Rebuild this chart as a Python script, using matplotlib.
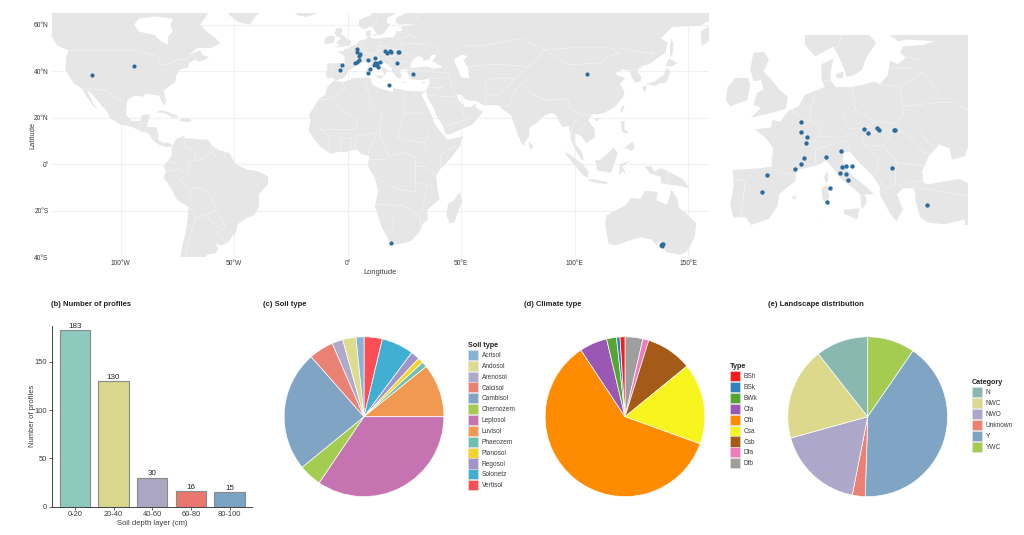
import matplotlib
matplotlib.use("Agg")
import matplotlib.pyplot as plt
from matplotlib.patches import Polygon, Patch

plt.rcParams['font.family'] = ['Liberation Sans', 'DejaVu Sans']

W, H = 1024, 535
LAND = '#e6e6e6'
GRID = '#f1f1f1'
TXT = '#3a3a3a'
DOT = '#2b6c9e'

# ---------- data ----------
depth_layers = ['0-20', '20-40', '40-60', '60-80', '80-100']
profile_counts = [183, 130, 30, 16, 15]
bar_colors = ['#8dc9bd', '#d8d78b', '#aba6c2', '#e8786d', '#7aa3c4']

soil_types = ['Acrisol', 'Andosol', 'Arenosol', 'Calcisol', 'Cambisol', 'Chernozem', 'Leptosol',
              'Luvisol', 'Phaeozem', 'Planosol', 'Regosol', 'Solonetz', 'Vertisol']
soil_shares = [1.6, 2.7, 2.2, 5.0, 24.4, 4.6, 34.5, 10.8, 1.1, 1.1, 1.8, 6.5, 3.7]
soil_colors = ['#89b3d5', '#dddb8e', '#afa9cb', '#ea8274', '#80a4c3', '#a3cc51', '#c673b1',
               '#f19851', '#6fbfaf', '#f5d327', '#a294c8', '#40afd1', '#fb4f55']

climate_types = ['BSh', 'BSk', 'BWk', 'Cfa', 'Cfb', 'Csa', 'Csb', 'Dfa', 'Dfb']
climate_shares = [1.0, 0.7, 2.0, 5.6, 60.1, 16.4, 9.3, 1.2, 3.6]
climate_colors = ['#fb1b1c', '#2d82be', '#55a630', '#9a57b3', '#ff8c00', '#f8f41e', '#a65a18', '#f07abf', '#9e9e9e']

land_cats = ['N', 'NWC', 'NWO', 'Unknown', 'Y', 'YWC']
land_shares = [10.6, 18.7, 17.6, 2.6, 40.9, 9.6]
land_colors = ['#88b8b0', '#dcd98d', '#ada8c9', '#ec8072', '#80a4c4', '#a3cc51']

europe_lon = [4.18, 4.18, 5.4, 5.2, 4.89, 4.24, 3.08, -2.4, -3.3, 9.15, 11.9, 12.1, 12.95, 14.1, 11.7, 12.95,
              13.3, 9.8, 9.2, 16.4, 17.3, 18.9, 19.3, 22.2, 22.5, 21.85, 28.7]
europe_lat = [49.48, 48.09, 47.48, 46.65, 44.74, 44.0, 43.3, 42.52, 40.35, 44.9, 45.65, 43.52, 43.65, 43.7, 42.83,
              42.6, 41.83, 40.83, 39.0, 48.48, 48.0, 48.65, 48.35, 48.39, 48.39, 43.48, 38.57]
other_lon = [-112.7, -94.0, 105.5, 19.3, 18.3, 138.2, 138.5, 138.9, 138.3]
other_lat = [38.5, 42.2, 38.7, -33.8, 34.0, -35.0, -34.5, -34.2, -35.2]

lat_ticks = [60, 40, 20, 0, -20, -40]
lat_labels = ['60°N', '40°N', '20°N', '0°', '20°S', '40°S']
lon_ticks = [-100, -50, 0, 50, 100, 150]
lon_labels = ['100°W', '50°W', '0°', '50°E', '100°E', '150°E']

# ---------- rough outlines (lon, lat) ----------
north_america = [(-135,67),(-60,67),(-62,64),(-65,60),(-62,57),(-58,54),(-56,52),(-60,50),(-66,50),(-70,47),(-65,49),(-64,47),(-61,46),
    (-64,44.5),(-66,44),(-67,45),(-70,43.5),(-70,41.7),(-74,40.5),(-75.5,38),(-76,35),(-78,34),(-81,31.5),(-80,27),(-80.5,25.2),(-82,27),
    (-83,29.5),(-85,29.7),(-89,30.3),(-90,29),(-94,29.5),(-97,27.5),(-97.5,24),(-97.5,21),(-95,18.5),(-91.5,18.5),(-90.5,21),(-87,21.5),
    (-88,18),(-88.5,16),(-84,15.8),(-83.3,12),(-83.5,10.5),(-81,9),(-79.5,9.5),(-77.5,8.5),(-77.5,7.5),(-80,7.3),(-83,8.3),(-85.5,10),
    (-87.5,13),(-92,14.5),(-95,16),(-100,17),(-105,20),(-105.5,22),(-109,26),(-112.5,30),(-114.7,31.7),(-112,26),(-109.8,23),(-112,25),
    (-115,29),(-117,32.5),(-120.5,34.5),(-122.5,37.5),(-124.3,40.5),(-124,46),(-123,49),(-128,51),(-130,54.5),(-135,58)]
hudson_bay = [(-94,60),(-92,57),(-85,55.5),(-82,52.5),(-79,51.5),(-79,55),(-77,57),(-78,60),(-77,62.5),(-85,63.5),(-92,62.5)]
greenland = [(-53,67),(-52,64),(-48,61),(-43,60),(-41,63),(-38,66),(-30,68)]
iceland = [(-24,65.5),(-22,64),(-18,63.4),(-14,64.5),(-14,66.5),(-23,66.5)]
cuba = [(-84.9,21.9),(-82.5,23.1),(-79,22.4),(-75,20.7),(-74.3,20.1),(-77.5,19.9),(-78,20.7),(-81,22),(-83.5,22.2)]
hispaniola = [(-74.4,18.5),(-73,19.9),(-70,19.8),(-68.4,18.6),(-71,18),(-72,18.2)]
south_america = [(-77,8),(-75.5,10.8),(-72,12.2),(-71.5,11),(-68,11),(-64,10.5),(-61.5,10.5),(-60,8.3),(-57,6),(-52,4.8),(-50,1),(-48,-0.7),
    (-44,-2.5),(-40,-2.9),(-35,-5.3),(-35,-8.5),(-39,-13),(-39,-18),(-41,-22),(-45,-23.5),(-48.5,-26),(-49,-29),(-53,-34),(-56,-35),(-58,-34.2),
    (-57,-36.5),(-58,-38.3),(-62,-39),(-62.5,-41),(-65,-41),(-65,-45),(-73,-45),(-73.5,-40),(-73,-36),(-71.5,-30),(-70.5,-24),(-70,-18.5),
    (-75,-15.5),(-78,-10),(-81,-6),(-80,-3),(-81,-1),(-79.5,1),(-77.5,3.5),(-77.5,7)]
africa = [(-6,36),(-2,35.2),(3,37),(10,37.3),(11,34),(15,32.3),(20,31),(20,32.8),(25,31.7),(30,31.3),(32.5,31.2),(34.2,31.3),(32.5,29.9),(34,27),
    (37,21),(38,18),(40,15),(43.2,11.5),(44,10.5),(51,11.9),(49,7),(45,2),(41,-2),(39,-5),(39.5,-10),(40.5,-15),(35,-20),(35.3,-24),(32.8,-26),
    (32,-29),(28,-33),(25,-34),(20,-34.8),(18.2,-33),(15,-27),(12,-18),(13.5,-12),(12,-6),(9,-1),(9.5,3.5),(6,4.3),(4,6.3),(-1,5.2),(-4,5.2),
    (-7.5,4.4),(-12,7.5),(-15,11),(-17.3,14.7),(-16.3,19),(-17,21),(-13,27.5),(-9.8,30),(-9,33)]
eurasia = [(12,67),(10,64),(5,62),(5,59.5),(7,58),(10.5,59.3),(11.2,58.5),(12.8,56),(13,55.4),(14.3,55.5),(16,56.2),(17,58),(18.8,59.8),(17.2,61),
    (17.5,63),(21,64.5),(22.2,65.8),(25,65.5),(25,64.5),(21.5,63),(21,61),(23,60),(25,60.2),(30,60),(28,59.5),(24,59.3),(23.5,58.5),(24.5,57.8),
    (23,57),(21.5,57.5),(21,55.5),(19.5,54.4),(18.5,54.7),(16,54.3),(14,54),(11,54),(10,54.8),(10,56),(10.5,57.7),(8.2,57),(8.2,55.2),(8.8,54),
    (7,53.5),(5,53),(3.8,51.5),(1.8,50.9),(0.2,49.5),(-1.3,49.7),(-1.6,48.7),(-4.7,48.5),(-2.5,47.3),(-1.2,46),(-1.5,43.6),(-4,43.4),(-9,43.2),
    (-8.8,41),(-9.5,38.8),(-8.9,37),(-6.5,37),(-5.5,36),(-2,36.8),(-0.3,38.5),(0,40),(3.2,41.8),(3.2,43.2),(5,43.4),(7.5,43.8),(9,44.4),(10.3,43.5),
    (12,42),(14,41),(15.7,40),(16,38),(17,39),(16.6,40),(18.5,40),(16,41.5),(14,42.5),(12.4,44.3),(12.4,45.4),(13.7,45.6),(15,44.5),(18,42.5),
    (19.5,41),(19.5,40),(21.5,37.5),(22.7,36.5),(24,38),(22.8,40),(24,40.8),(26,40.8),(26.5,40),(26.3,39.5),(27.3,37),(29,36.3),(32,36.1),(36,36.7),
    (36,34.5),(34.5,31.5),(34.9,29.5),(35.5,28),(38,24),(39,21),(42,16.5),(43.3,12.8),(45,12.8),(52,15.8),(55,17),(59.7,22.5),(56.5,24.5),(56.2,26.2),
    (54.5,24.5),(51.5,24.5),(51,26),(50,26),(48,29.5),(50,30),(52,27.7),(56.8,27),(60,25.3),(66.5,25.3),(68,23.7),(72,21),(73,18),(74.5,14),(76.5,9),
    (77.5,8),(80,12),(80,15.5),(83,17.5),(87,21),(90,22),(92,21),(94.3,16),(97.5,16.5),(98.5,10),(100.5,6),(103.5,1.4),(104,2.5),(103,5.5),(100,9),
    (100,13.3),(103,12),(105,9),(109,11.5),(108.8,15),(106,19),(108,21.5),(111,21.5),(114,22.5),(118,24.8),(121.5,29),(122,31),(120,34.5),(122.5,37),
    (119,38),(118,39.2),(121.5,40.8),(124.3,40),(125,38),(126.5,35),(129,35.5),(129.5,37.5),(127.5,39.8),(130,42.5),(133,43),(140,48),(141,52.5),
    (138,54),(143,59),(155,59.5),(160,62),(160,67)]
kamchatka = [(156,51),(155.5,57),(160,60),(165,60),(162,55),(158,52)]
black_sea = [(28,41.5),(27.7,43),(29,45),(31,46.5),(33,46),(33.5,44.5),(36,45),(37,47),(39,47),(38,45),(37,44.5),(41.5,42),(41.5,41.5),(38,41),(35,42),(32,41.7),(29,41.3)]
caspian = [(47,45),(50,47),(53,46.5),(51,44.5),(53,41.5),(53.5,37),(50,37.3),(49,40),(47.5,43)]
great_britain = [(-5,58.5),(-3,58.6),(-2,57.6),(-3,56),(-1.5,55),(0,53.7),(1.7,52.7),(1.3,51.2),(-1,50.7),(-5.5,50),(-3.5,51.3),(-5,51.7),(-4.3,53.2),(-3,53.7),(-3.5,54.9),(-5,54.8),(-5.6,56.3)]
ireland = [(-10,54),(-8.5,55.2),(-6,55.2),(-5.6,54.3),(-6.2,52.3),(-9.5,51.5),(-10.3,52.3)]
corsica = [(8.6,42.2),(9.4,43),(9.5,42),(9.2,41.4)]
sardinia = [(8.2,40.9),(9.5,41.2),(9.7,39.5),(8.9,38.9),(8.4,39.3)]
sicily = [(12.5,38),(15.6,38.2),(15.1,36.7),(12.6,37.5)]
crete = [(23.6,35.5),(26.2,35.2),(24.8,34.9)]
cyprus = [(32.3,35),(34.5,35.6),(33.8,34.7)]
zealand = [(11,55.7),(12.5,56),(12.3,55.2),(11.2,55.2)]
balearic = [(2.4,39.6),(3.3,39.9),(3.1,39.3)]
honshu = [(131,34.4),(135.5,35.6),(137,37),(139.5,38.5),(140,40.5),(141.3,41.3),(142,39.5),(140.8,36),(139.8,35),(137,34.6),(135.5,33.6),(133,34.2)]
kyushu = [(130,33.5),(131.8,33.7),(131.3,31.4),(130.2,31.3)]
hokkaido = [(140,42.5),(141.7,45.4),(145.3,43.5),(143,42),(141,42)]
sakhalin = [(142,46),(142,50),(142.5,54),(143.5,52),(143.3,49),(143,46.8)]
sumatra = [(95.3,5.5),(98,4),(103.5,0),(106,-3),(105.8,-5.8),(104,-5),(100.5,-1),(97,3)]
java = [(105.3,-6.8),(108.5,-6.5),(114.5,-7.7),(114.3,-8.7),(108,-7.8)]
borneo = [(109,1.5),(111,1.7),(115,5),(117,7),(119,5),(117.8,1),(116,-3.8),(113,-3.3),(110,-2.8)]
sulawesi = [(119.5,-5.5),(120,0),(125,1.5),(121,-1),(123,-4.8),(121,-3)]
new_guinea = [(131,-1),(134,-0.8),(135,-3.3),(138,-1.7),(145,-5),(147.8,-6.5),(150.5,-10.5),(147,-9.5),(143,-9),(138,-8.3),(138,-5.5),(133,-4)]
luzon = [(120.3,18.5),(122,18.4),(122,15),(124,13),(121,13.7)]
mindanao = [(122,7),(125.5,9.7),(126.5,7),(125,5.7)]
taiwan = [(121,25),(122,25),(120.8,22),(120.1,23)]
hainan = [(108.7,19.3),(110.5,20.1),(111,19.6),(109.5,18.2)]
sri_lanka = [(80,9.7),(81.8,7.5),(80.5,6),(79.8,8)]
madagascar = [(49.3,-12),(50.4,-16),(47,-25),(45,-25.5),(43.5,-22),(44.3,-17),(47,-15.5)]
australia = [(114,-22),(113.5,-26),(115,-34.3),(118,-35),(124,-33),(129,-31.5),(134,-32.5),(136,-35),(138,-33),(138.5,-35.5),(140.5,-38),(144,-38.5),
    (146.5,-39),(150,-37.3),(153,-31),(153.5,-25.5),(149,-21),(146,-19),(145.3,-15),(142.7,-11),(141.5,-15),(140.5,-17.5),(136,-15.5),(136.5,-12),
    (131,-11.5),(129,-15),(125,-14.5),(122,-18),(117,-20.5)]

borders = [
    [(-123,49),(-95,49),(-89,48),(-83,46),(-82.5,42.5),(-79,43),(-75,45),(-71,45),(-67.8,47),(-67,45)],
    [(-117,32.5),(-106.5,31.8),(-103,29),(-97.5,26)], [(-92,14.5),(-91,17.5),(-89,18)], [(-89,16),(-89,14),(-87.5,13)], [(-85.5,11),(-83.5,11)],
    [(-72,12),(-72,7),(-67.5,6),(-67,2)],
    [(-60,5),(-64,2),(-70,1),(-70,-4),(-74,-7),(-70,-11),(-65,-10),(-60,-14),(-58,-20),(-55,-24),(-54,-27),(-57.5,-30),(-53.5,-34)],
    [(-69.5,-18),(-67,-23),(-70,-33),(-71.5,-40),(-72,-46)], [(-67,-23),(-62.5,-22),(-58,-20)], [(-62.5,-22),(-57.5,-27),(-54.5,-26)],
    [(-80.3,-3.5),(-75,-2),(-70,-4)], [(-79,1.3),(-75,0)], [(-60,8),(-60,5),(-57,2)], [(-54,5.7),(-54,2.5)], [(-69.5,-11),(-69,-18)],
    [(-2,35),(-1,32),(-8.7,27.7),(-13,27.7)], [(8.5,36.5),(8,33),(9.5,30),(10,24),(12,23.5)], [(25,31.7),(25,20)], [(25,22),(37,22)],
    [(-12,15),(-5,15),(4,15),(4,19),(-5,25)], [(15,23),(14,13)], [(24,20),(22,11)], [(36,15),(34,9),(35,5)], [(41,-2),(41,4),(48,8)],
    [(12,-6),(22,-11),(30,-12),(30,-4),(30,3),(25,5),(18,3.5),(16,2),(9.5,2)], [(3,6.5),(3.7,12),(13,13.5),(9,4.5)],
    [(12,-17.3),(23.5,-17.8),(25,-18)], [(20,-22),(20,-28),(17,-28.8)], [(25,-18),(32,-22.5),(32,-26.5)], [(30,-1),(34,-1),(39,-4.8)],
    [(30,-8),(40.5,-10.5)], [(35,-10),(33,-20)], [(-8,5),(-8,12),(-12,15)], [(-3,5),(-3,11),(2,11),(1,6)], [(22,11),(34,9)], [(18,3.5),(14,13)],
    [(36,36.8),(42,37)], [(44.5,39),(46,33),(48,30)], [(61,36),(61,25.5)], [(67,25),(71,25),(74,32),(77,35)],
    [(87,49),(97,42.7),(111,43.5),(116,47),(120,47),(116,50),(98,50),(87,49)], [(50,51),(60,51),(77,54),(87,49)], [(53,42),(66,43),(80,42)],
    [(77,35),(81,30),(88,27.5),(97,28)], [(97,28),(98,24),(102,21.5),(108,21.5)], [(98,10),(99,16),(101,20)], [(102,14),(105,18)],
    [(35,29.5),(47,29),(50,24.5),(52,19),(55,20)], [(43.3,16.5),(52,19)], [(120,50),(130,48),(135,48),(131,43)], [(124.5,40),(130.5,42.5)],
    [(61,36),(66,37),(74,37),(80,42),(87,49)], [(61,30),(66,29.5),(70,33),(74,37)], [(141,-2.6),(141,-9)], [(36,33),(42,33),(39,32)],
    [(-1.7,43.3),(3.2,42.4)], [(-8.8,42),(-6.5,41.7),(-7,39.5),(-7.4,37.2)], [(2.5,51),(4.2,50),(6,49.5),(8.2,49),(7.6,47.6),(6,46.3),(7,45.8),(7,44.2),(7.5,43.8)],
    [(7,53.3),(6,51),(6,49.5)], [(14.2,54),(14.8,51),(12.2,50.3),(13.7,48.6),(13,47.5),(9.6,47.5),(7.6,47.6)], [(8.7,54.9),(9.8,54.8)],
    [(7,45.8),(10.4,46.6),(12.4,47),(13.7,46.5),(13.7,45.6)], [(14.8,51),(18.8,49.5),(22.7,49.2),(24,50.5),(23.5,54),(19.5,54.4)],
    [(13.7,48.6),(17,48.7),(18.8,49.5)], [(17,48),(22.1,48.4),(20.3,46.2),(16.5,46.5),(16.1,47.7)], [(22.1,48.4),(24.5,48),(28,45.5),(29.7,45.2)],
    [(22.7,44.2),(28.6,43.7)], [(22.5,41.2),(26.3,41.7),(28,42)], [(20.3,46.2),(22.7,44.2),(22.5,41.2),(20.5,40.8),(19.4,42)],
    [(16.5,46.3),(19,45),(19,43),(18.5,42.5)], [(40,49.7),(34,52),(31,52)], [(31,52),(24,51.5)], [(23.5,54),(28,56),(31,53)],
    [(21,56.5),(26,56.5)], [(24.5,58),(27.5,57.5)], [(28,60.5),(31,63),(29,67)], [(11.2,59),(12.5,61.5),(14,65),(16,67)], [(27,48.3),(30,46)],
    [(4,51.4),(6,51)], [(26,41),(28,41.9)], [(26,40.9),(44.5,39)], [(40,49.7),(40,47)], [(24.5,66),(29,67)],
]

land_polys = [north_america, greenland, iceland, cuba, hispaniola, south_america, africa, eurasia, kamchatka, great_britain, ireland,
              corsica, sardinia, sicily, crete, cyprus, zealand, balearic, honshu, kyushu, hokkaido, sakhalin, sumatra, java, borneo,
              sulawesi, new_guinea, luzon, mindanao, taiwan, hainan, sri_lanka, madagascar, australia]
inset_polys = [p for p in land_polys if p is not africa]
water_polys = [hudson_bay, black_sea, caspian]

# ---------- helpers ----------
def box(x0, y0, x1, y1):
    return [x0 / W, 1 - y1 / H, (x1 - x0) / W, (y1 - y0) / H]

def draw_land(ax, polys):
    for p in polys:
        ax.add_patch(Polygon(p, closed=True, fc=LAND, ec='none', zorder=2))
    for p in water_polys:
        ax.add_patch(Polygon(p, closed=True, fc='white', ec='none', zorder=3))
    for b in borders:
        ax.plot([q[0] for q in b], [q[1] for q in b], color='#f7f7f7', lw=0.35, zorder=4, solid_capstyle='round')

def title(x, y, s):
    fig.text(x / W, 1 - y / H, s, fontsize=5.5, fontweight='bold', color='#222222', ha='left', va='center')

def pie(cx, cy, r, shares, colors):
    # slices run clockwise from 12 o'clock starting with the last legend entry
    ax = fig.add_axes(box(cx - r, cy - r, cx + r, cy + r))
    ax.pie(shares[::-1], colors=colors[::-1], startangle=90, counterclock=False, radius=1,
           wedgeprops=dict(edgecolor='white', linewidth=0.5))
    ax.set_xlim(-1.005, 1.005)
    ax.set_ylim(-1.005, 1.005)
    return ax

def legend(x, y, name, labels, colors):
    handles = [Patch(fc=c, ec='#e2e2e2', lw=0.4, label=l) for l, c in zip(labels, colors)]
    lg = fig.legend(handles=handles, loc='upper left', bbox_to_anchor=(x / W, 1 - y / H), frameon=False,
                    fontsize=4.7, title=name, alignment='left', borderpad=0, borderaxespad=0,
                    handlelength=1.53, handleheight=2.0, labelspacing=0.12, handletextpad=0.6)
    lg.get_title().set_fontsize(5.2)
    lg.get_title().set_fontweight('bold')
    lg.get_title().set_color('#222222')
    for t in lg.get_texts():
        t.set_color(TXT)

fig = plt.figure(figsize=(W / 100, H / 100), dpi=100, facecolor='white')

# ---------- world map ----------
ax = fig.add_axes(box(52, 13, 709, 257))
ax.set_xlim(-130.2, 159.2)
ax.set_ylim(-40, 65)
ax.set_xticks(lon_ticks, lon_labels)
ax.set_yticks(lat_ticks, lat_labels)
ax.grid(True, color=GRID, lw=0.8, zorder=1)
ax.set_axisbelow(True)
ax.tick_params(length=0, labelsize=4.8, labelcolor=TXT, pad=2.5)
for s in ax.spines.values():
    s.set_visible(False)
draw_land(ax, land_polys)
ax.scatter(europe_lon + other_lon, europe_lat + other_lat, s=9, color=DOT, linewidths=0, zorder=5)
ax.set_xlabel('Longitude', fontsize=5.4, color=TXT, labelpad=1)
ax.set_ylabel('Latitude', fontsize=5.4, color=TXT, labelpad=-2)

# ---------- Europe inset ----------
ax2 = fig.add_axes(box(725, 35, 968, 225))
ax2.set_xlim(-10.5, 36.6)
ax2.set_ylim(36, 60.8)
ax2.axis('off')
draw_land(ax2, inset_polys)
ax2.scatter(europe_lon, europe_lat, s=10, color=DOT, linewidths=0, zorder=5)

# ---------- bars ----------
ax3 = fig.add_axes(box(51.7, 325.7, 252, 506.7))
bars = ax3.bar(depth_layers, profile_counts, width=0.78, color=bar_colors, edgecolor='#8a8a8a', linewidth=0.8)
ax3.bar_label(bars, labels=[str(v) for v in profile_counts], fontsize=5.8, color='#222222', padding=0.3)
ax3.set_xlim(-0.6, 4.58)
ax3.set_ylim(0, 187.5)
ax3.set_yticks([0, 50, 100, 150])
ax3.spines[['top', 'right']].set_visible(False)
ax3.spines[['left', 'bottom']].set_color('#444444')
ax3.spines[['left', 'bottom']].set_linewidth(0.7)
ax3.tick_params(length=2, width=0.6, labelsize=5.4, labelcolor=TXT, color='#444444', pad=1.2)
ax3.set_xlabel('Soil depth layer (cm)', fontsize=5.5, color=TXT, labelpad=1)
ax3.set_ylabel('Number of profiles', fontsize=5.5, color=TXT, labelpad=-1)

# ---------- pies ----------
pie(364, 416.7, 80.3, soil_shares, soil_colors)
pie(625, 416.7, 80.3, climate_shares, climate_colors)
pie(867.7, 416.7, 80.3, land_shares, land_colors)

legend(468, 342, 'Soil type', soil_types, soil_colors)
legend(729.7, 363.5, 'Type', climate_types, climate_colors)
legend(972, 379.5, 'Category', land_cats, land_colors)

title(51, 305, '(b) Number of profiles')
title(263, 305, '(c) Soil type')
title(524, 305, '(d) Climate type')
title(768, 305, '(e) Landscape distribution')

fig.savefig('out.png', dpi=100)
